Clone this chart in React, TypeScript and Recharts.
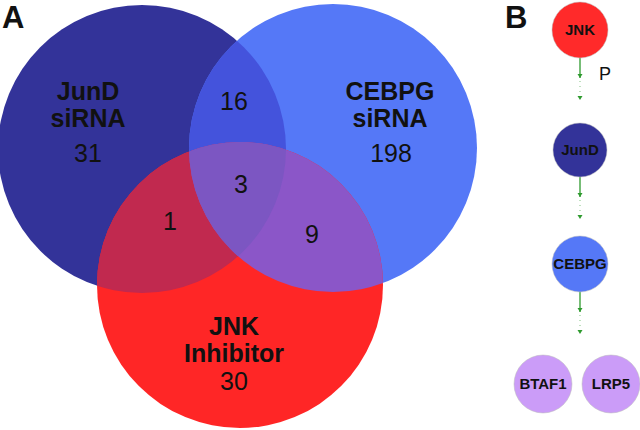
import { Scatter, ScatterChart, XAxis, YAxis } from 'recharts'

const W = 640
const H = 430
const FONT = '"Liberation Sans", Arial, sans-serif'

// panel A: gene counts per set and overlap
const setTitles = [
  ['JunD', 'siRNA'],
  ['CEBPG', 'siRNA'],
  ['JNK', 'Inhibitor']
]
const uniqueCounts = [31, 198, 30]
const pairSets = [
  [0, 1],
  [0, 2],
  [1, 2]
]
const pairCounts = [16, 1, 9]
const tripleCount = 3

// panel B: pathway
const pathway = ['JNK', 'JunD', 'CEBPG']
const targets = ['BTAF1', 'LRP5']
const edgeLabel = 'P'

// layout (chart units = pixels)
const circleLayout = [
  { x: 142, y: 149, r: 144 },
  { x: 333, y: 148, r: 144 },
  { x: 240, y: 285, r: 143 }
]
const setColors = ['#333399', '#5578F7', '#FF2626']
const pairColors = ['#4453DC', '#C1294F', '#8B56C8']
const tripleColor = '#7C56C2'
const titleAnchors = [
  { x: 88, y: 100 },
  { x: 390, y: 100 },
  { x: 234, y: 335 }
]
const countAnchors = [
  { x: 88, y: 162 },
  { x: 391, y: 162 },
  { x: 234, y: 390 }
]
const pairAnchors = [
  { x: 234, y: 110 },
  { x: 170, y: 230 },
  { x: 312, y: 243 }
]
const tripleAnchor = { x: 241, y: 193 }

const nodeLayout = [
  { x: 580, y: 30, r: 28 },
  { x: 580, y: 150, r: 27 },
  { x: 580, y: 264, r: 28 }
]
const targetLayout = [
  { x: 543, y: 384, r: 29 },
  { x: 611, y: 384, r: 29 }
]
const nodeColors = ['#FF2A2A', '#333399', '#5578F7']
const targetColor = '#CB9CF8'
const edgeColor = '#2E9A2E'

const k = 1 // px per unit

const circles = circleLayout.map((c, i) => ({ ...c, color: setColors[i] }))

const regions = [
  ...pairSets.map(([a, b], i) => ({
    id: `pair${i}`,
    x: circleLayout[a].x,
    y: circleLayout[a].y,
    base: a,
    clips: [b],
    color: pairColors[i]
  })),
  {
    id: 'triple',
    x: circleLayout[0].x,
    y: circleLayout[0].y,
    base: 0,
    clips: [1, 2],
    color: tripleColor
  }
]

const textItems = [
  ...setTitles.map((lines, i) => ({ ...titleAnchors[i], lines, bold: true })),
  ...uniqueCounts.map((c, i) => ({ ...countAnchors[i], lines: [String(c)], bold: false })),
  ...pairCounts.map((c, i) => ({ ...pairAnchors[i], lines: [String(c)], bold: false })),
  { ...tripleAnchor, lines: [String(tripleCount)], bold: false },
  { x: 2, y: 28, lines: ['A'], bold: true, size: 31, anchor: 'start' },
  { x: 505, y: 28, lines: ['B'], bold: true, size: 31, anchor: 'start' },
  { x: 599, y: 80, lines: [edgeLabel], bold: false, size: 18, anchor: 'start' }
]

const nodes = [
  ...pathway.map((name, i) => ({ ...nodeLayout[i], name, color: nodeColors[i] })),
  ...targets.map((name, i) => ({ ...targetLayout[i], name, color: targetColor }))
]

const edges = pathway.map((_, i) => ({
  x: nodeLayout[i].x,
  y: nodeLayout[i].y + nodeLayout[i].r,
  len1: 20,
  len2: 42
}))

function CircleShape(props: any) {
  const { cx, cy, payload } = props
  return <circle cx={cx} cy={cy} r={payload.r * k} fill={payload.color} />
}

function RegionShape(props: any) {
  const { cx, cy, payload } = props
  const base = circleLayout[payload.base]
  const toPx = (c: { x: number; y: number }) => ({
    x: cx + (c.x - base.x) * k,
    y: cy + (c.y - base.y) * k
  })
  let inner: React.ReactNode = <circle cx={cx} cy={cy} r={base.r * k} fill={payload.color} />
  payload.clips.forEach((ci: number) => {
    inner = <g clipPath={`url(#${payload.id}-${ci})`}>{inner}</g>
  })
  return (
    <g>
      <defs>
        {payload.clips.map((ci: number) => {
          const p = toPx(circleLayout[ci])
          return (
            <clipPath id={`${payload.id}-${ci}`} key={ci}>
              <circle cx={p.x} cy={p.y} r={circleLayout[ci].r * k} />
            </clipPath>
          )
        })}
      </defs>
      {inner}
    </g>
  )
}

function TextShape(props: any) {
  const { cx, cy, payload } = props
  const size = payload.size ?? 25
  return (
    <text
      x={cx}
      y={cy}
      textAnchor={payload.anchor ?? 'middle'}
      fontFamily={FONT}
      fontSize={size}
      fontWeight={payload.bold ? 'bold' : 'normal'}
      fill="#111"
    >
      {payload.lines.map((line: string, i: number) => (
        <tspan key={i} x={cx} dy={i === 0 ? 0 : 27}>
          {line}
        </tspan>
      ))}
    </text>
  )
}

function NodeShape(props: any) {
  const { cx, cy, payload } = props
  return (
    <g>
      <circle cx={cx} cy={cy} r={payload.r * k} fill={payload.color} stroke="#bbb" strokeWidth={0.5} />
      <text
        x={cx}
        y={cy + 5}
        textAnchor="middle"
        fontFamily={FONT}
        fontSize={15}
        fontWeight="bold"
        fill="#111"
      >
        {payload.name}
      </text>
    </g>
  )
}

function EdgeShape(props: any) {
  const { cx, cy, payload } = props
  const y1 = cy + payload.len1 * k
  const y2 = cy + payload.len2 * k
  const head = (y: number) => `M${cx - 2.5},${y - 4} L${cx + 2.5},${y - 4} L${cx},${y} Z`
  return (
    <g>
      <line x1={cx} y1={cy} x2={cx} y2={y1} stroke={edgeColor} strokeWidth={1.3} />
      <path d={head(y1)} fill={edgeColor} />
      <line x1={cx} y1={y1 + 3} x2={cx} y2={y2 - 4} stroke={edgeColor} strokeWidth={1} strokeDasharray="1 4" opacity={0.6} />
      <path d={head(y2)} fill={edgeColor} />
    </g>
  )
}

export default function App() {
  return (
    <div style={{ position: 'absolute', left: 0, top: 0, width: W, height: H, background: '#fff' }}>
      <ScatterChart width={W} height={H} margin={{ top: 0, right: 0, bottom: 0, left: 0 }}>
        <XAxis type="number" dataKey="x" domain={[0, W]} hide />
        <YAxis type="number" dataKey="y" domain={[0, H]} reversed hide />
        <Scatter data={circles} shape={CircleShape} isAnimationActive={false} />
        <Scatter data={regions} shape={RegionShape} isAnimationActive={false} />
        <Scatter data={edges} shape={EdgeShape} isAnimationActive={false} />
        <Scatter data={nodes} shape={NodeShape} isAnimationActive={false} />
        <Scatter data={textItems} shape={TextShape} isAnimationActive={false} />
      </ScatterChart>
    </div>
  )
}
